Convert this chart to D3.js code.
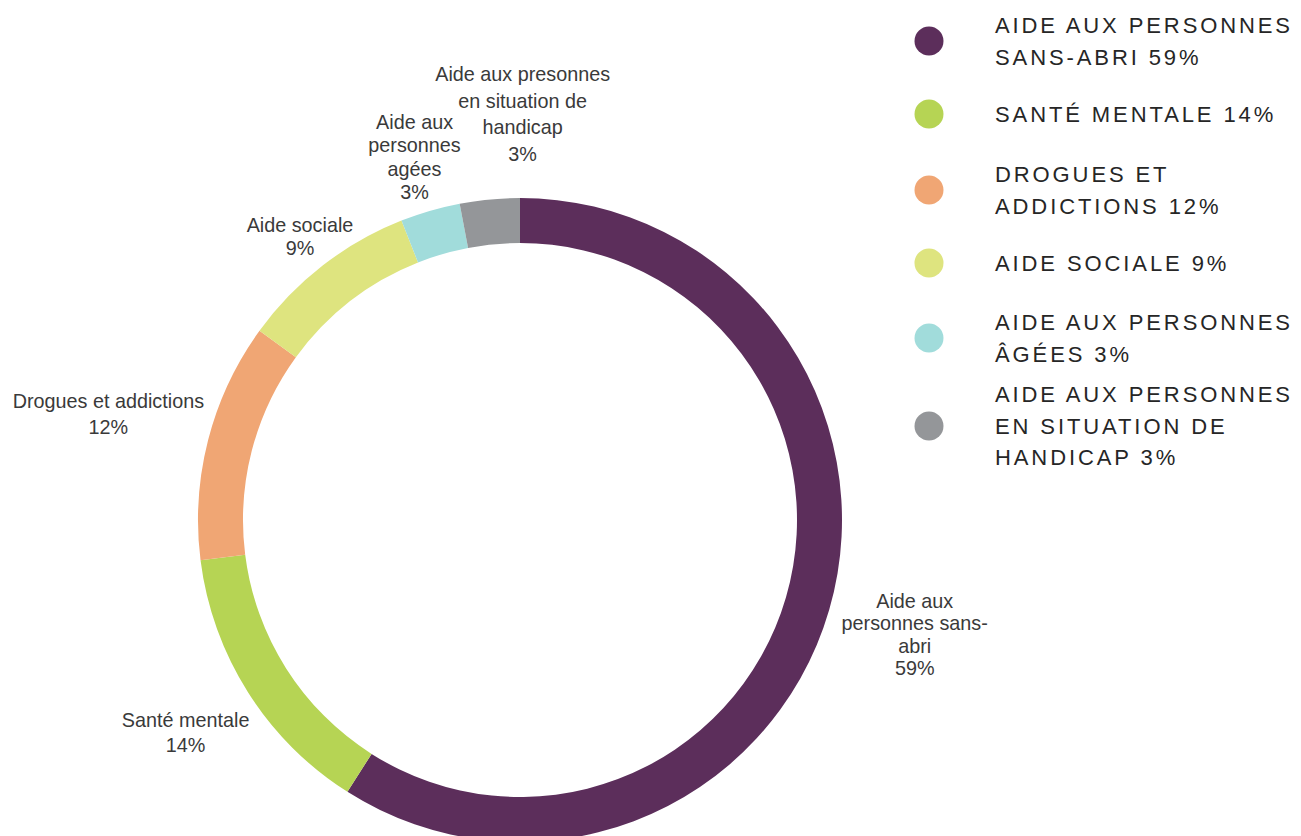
<!DOCTYPE html>
<html>
<head>
<meta charset="utf-8">
<script src="https://cdn.jsdelivr.net/npm/d3@7"></script>
<style>
  html, body { margin: 0; padding: 0; background: #fff; }
  svg { display: block; }
  .sliceLabel { font-family: "Liberation Sans", Arial, sans-serif; font-size: 19.8px; fill: #3a3a3a; }
  .legendText { font-family: "Liberation Sans", Arial, sans-serif; font-size: 22px; letter-spacing: 2.9px; fill: #262626; }
</style>
</head>
<body>
<svg id="chart"></svg>
<script>
// data
const categories = ["Aide aux personnes sans-abri", "Santé mentale", "Drogues et addictions",
	"Aide sociale", "Aide aux personnes agées", "Aide aux presonnes en situation de handicap"];
const values = [59, 14, 12, 9, 3, 3];
const colors = ["#5c2e5b", "#b6d454", "#f0a674", "#dee47f", "#a1dcdb", "#949699"];
const sliceLabelLines = [
	["Aide aux", "personnes sans-", "abri", "59%"],
	["Santé mentale", "14%"],
	["Drogues et addictions", "12%"],
	["Aide sociale", "9%"],
	["Aide aux", "personnes", "agées", "3%"],
	["Aide aux presonnes", "en situation de", "handicap", "3%"]
];
const legendLines = [
	["AIDE AUX PERSONNES", "SANS-ABRI 59%"],
	["SANTÉ MENTALE 14%"],
	["DROGUES ET", "ADDICTIONS 12%"],
	["AIDE SOCIALE 9%"],
	["AIDE AUX PERSONNES", "ÂGÉES 3%"],
	["AIDE AUX PERSONNES", "EN SITUATION DE", "HANDICAP 3%"]
];

// layout
const width = 1301, height = 836;
const cx = 520, cy = 520;
const outerR = 322, innerR = 277;
const labelRadius = [411, 396, 425, 359, 378, 408];
const labelNudge = [0, 0, 0, 0, 0, 41];
const labelLineHeight = [22.5, 25, 26, 23, 23.5, 26.5];
const legendY = [41, 114, 190, 263, 338, 426];
const legendLineHeight = 31.5;

const svg = d3.select("#chart")
	.attr("width", width)
	.attr("height", height);

const pie = d3.pie().sort(null).value(function(d) { return d; });
const arcs = pie(values);
const arc = d3.arc().innerRadius(innerR).outerRadius(outerR);

const donut = svg.append("g")
	.attr("class", "donut")
	.attr("transform", "translate(" + cx + "," + cy + ")");

donut.selectAll(".slice")
	.data(arcs)
	.enter()
	.append("path")
	.attr("class", "slice")
	.attr("d", arc)
	.attr("fill", function(d, i) { return colors[i]; });

// slice labels, placed along the mid angle of each slice
const labels = donut.selectAll(".sliceLabel")
	.data(arcs)
	.enter()
	.append("text")
	.attr("class", "sliceLabel")
	.attr("text-anchor", "middle");

labels.each(function(d, i) {
	const mid = (d.startAngle + d.endAngle) / 2;
	const x = Math.sin(mid) * labelRadius[i] + labelNudge[i];
	const yc = -Math.cos(mid) * labelRadius[i];
	const lines = sliceLabelLines[i];
	const lh = labelLineHeight[i];
	const y0 = yc - (lines.length - 1) * lh / 2 + 19.8 * 0.35;
	d3.select(this).selectAll("tspan")
		.data(lines)
		.enter()
		.append("tspan")
		.attr("x", x)
		.attr("y", function(t, j) { return y0 + j * lh; })
		.text(function(t) { return t; });
});

// legend
const legend = svg.append("g").attr("class", "legend");
const items = legend.selectAll(".legendItem")
	.data(categories)
	.enter()
	.append("g")
	.attr("class", "legendItem")
	.attr("transform", function(d, i) { return "translate(929," + legendY[i] + ")"; });

items.append("circle")
	.attr("r", 14.5)
	.attr("fill", function(d, i) { return colors[i]; });

items.append("text")
	.attr("class", "legendText")
	.each(function(d, i) {
		const lines = legendLines[i];
		const y0 = -(lines.length - 1) * legendLineHeight / 2 + 22 * 0.36;
		d3.select(this).selectAll("tspan")
			.data(lines)
			.enter()
			.append("tspan")
			.attr("x", 66)
			.attr("y", function(t, j) { return y0 + j * legendLineHeight; })
			.text(function(t) { return t; });
	});
</script>
</body>
</html>
